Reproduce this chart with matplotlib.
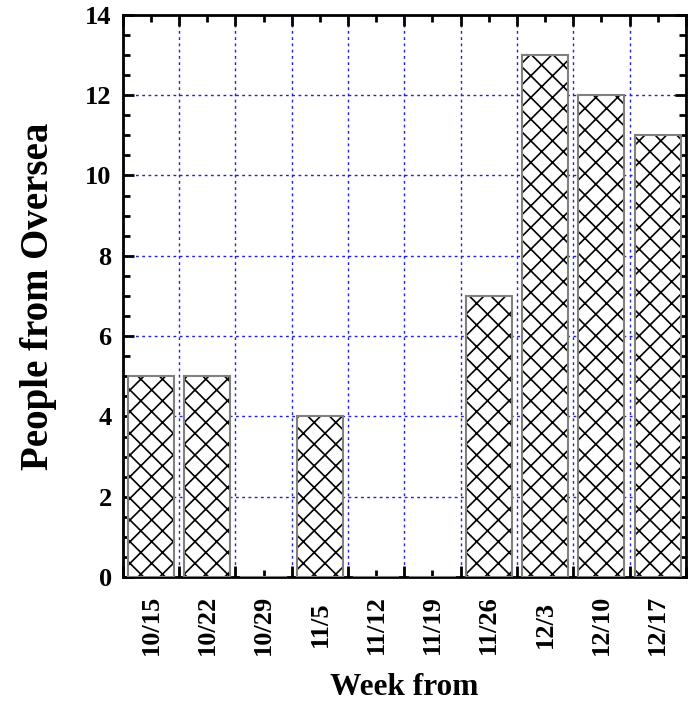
import matplotlib
matplotlib.use("Agg")
import matplotlib.pyplot as plt
import numpy as np

weeks = ["10/15", "10/22", "10/29", "11/5", "11/12", "11/19", "11/26", "12/3", "12/10", "12/17"]
people = [5, 5, 0, 4, 0, 0, 7, 13, 12, 11]

# higher dpi makes the hatch cells coarser; k keeps point sizes the same in pixels
DPI = 130
k = 100.0 / DPI

plt.rcParams['font.family'] = ['Liberation Serif', 'DejaVu Serif']
plt.rcParams['font.weight'] = 'bold'
plt.rcParams['hatch.linewidth'] = 1.2 * k

fig = plt.figure(figsize=(690 / DPI, 703 / DPI), dpi=DPI)
ax = fig.add_axes([0.178, 0.179, 0.816, 0.8])

x = np.arange(len(weeks))
# hatch pass in black, then the outline in grey on top
ax.bar(x, people, width=0.82, color='white', edgecolor='black', hatch='xx', linewidth=0, zorder=2)
ax.bar(x, people, width=0.82, fill=False, edgecolor='#808080', linewidth=1.5 * k, zorder=3)

ax.set_xlim(-0.5, len(weeks) - 0.5)
ax.set_ylim(0, 14)

ax.set_xticks(np.arange(-0.5, len(weeks), 1.0))
ax.set_xticklabels([])
ax.set_xticks(x, weeks, minor=True)
ax.set_yticks(np.arange(0, 15, 2))
ax.set_yticks(np.arange(0, 14.01, 0.5), minor=True)

ax.tick_params(which='both', direction='in', top=True, right=True, width=2 * k)
ax.tick_params(which='major', length=8 * k, labelsize=19 * k, pad=8 * k)
ax.tick_params(which='minor', length=5 * k, labelsize=19 * k)
ax.tick_params(axis='x', which='minor', labelrotation=90, pad=34 * k)
ax.tick_params(axis='y', which='minor', labelleft=False)
for lab in ax.get_xticklabels(minor=True):
    lab.set_va('center')

ax.grid(True, which='major', color='#2020e0', linestyle=(0, (2, 2.5)), linewidth=1.0 * k)
ax.set_axisbelow(True)

for s in ax.spines.values():
    s.set_linewidth(2 * k)

ax.set_ylabel("People from Oversea", fontsize=28 * k, fontweight='bold', va='center')
ax.yaxis.set_label_coords(-0.150, 0.5)
ax.set_xlabel("Week from", fontsize=22.5 * k, fontweight='bold', va='center')
ax.xaxis.set_label_coords(0.5, -0.196)

fig.savefig("out.png", dpi=DPI)
